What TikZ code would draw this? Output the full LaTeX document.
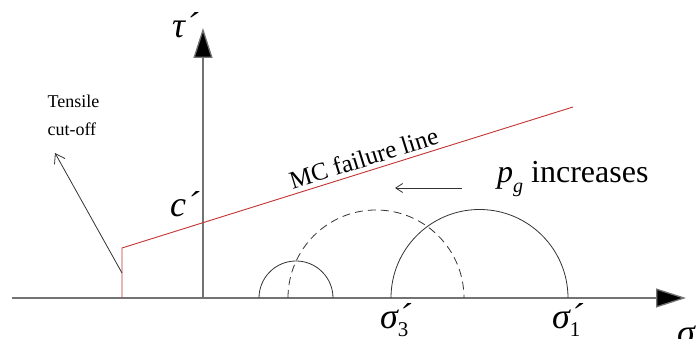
\documentclass[tikz,border=0pt]{standalone}
\usepackage{fontspec}
\setmainfont{Liberation Serif}
\usetikzlibrary{arrows.meta,calc}

\newcommand{\lbprime}[2]{#1\makebox[0pt][l]{\kern1pt´}\raisebox{-0.22em}{\fontsize{21}{21}\selectfont\upshape #2}}

\tikzset{
  axis/.style={line width=1.3pt, draw=black!55, -{Triangle[length=30pt,width=19pt,fill=black]}},
  mcline/.style={draw=red!70!black!80, line width=0.9pt},
  circ/.style={draw=black!80, line width=0.8pt},
  big/.style={font=\fontsize{36}{36}\selectfont\itshape, anchor=base west, inner sep=0pt},
  small/.style={font=\fontsize{18}{28}\selectfont}
}

\begin{document}
\begin{tikzpicture}[x=1pt,y=1pt]
\useasboundingbox (0,0) rectangle (696,339);
% axes
\coordinate (xs) at (12,41); \coordinate (xe) at (686,41);
\coordinate (ys) at (203,41); \coordinate (ye) at (203,311);
\draw[axis] (xs)--(xe);
\draw[axis] (ys)--(ye);
\node[big] (tau) at (172,301) {\lbprime{τ}{}};
\node[big] (c) at (170,122) {\lbprime{c}{}};
\node[big] (sig) at (677,-6) {σ};
% failure line with tensile cut-off
\coordinate (A) at (122,41); \coordinate (B) at (122,91); \coordinate (C) at (573,232);
\draw[mcline] (A)--(B)--(C) node[pos=0.545, sloped, above=1pt, font=\fontsize{25}{25}\selectfont, text=black] (mc) {MC failure line};
\node[small, align=left, anchor=west] (tens) at (44,224) {Tensile\\cut-off};
\coordinate (T) at (122,66); \coordinate (TT) at (55,186);
\draw[draw=black!80, line width=0.8pt, -{Straight Barb[length=9pt,width=12pt]}] (T)--(TT);
% Mohr circles
\draw[circ] (259,41) arc[start angle=180, end angle=0, radius=37];
\draw[circ, dashed, dash pattern=on 8pt off 5pt] (288,41) arc[start angle=180, end angle=0, radius=88];
\draw[circ] (391,41) arc[start angle=180, end angle=0, radius=88.5];
\node[big] (s3) at (380,10) {\lbprime{σ}{3}};
\node[big] (s1) at (552,10) {\lbprime{σ}{1}};
% loading direction
\node[big, font=\fontsize{32}{32}\selectfont] (pg) at (497,156) {\textit{p}\raisebox{-0.3em}{\fontsize{20}{20}\selectfont\itshape g} increases};
\coordinate (P1) at (462,151); \coordinate (P2) at (395,151);
\draw[draw=black!80, line width=0.8pt, -{Straight Barb[length=7pt,width=9pt]}] (P1)--(P2);
\end{tikzpicture}
\end{document}
